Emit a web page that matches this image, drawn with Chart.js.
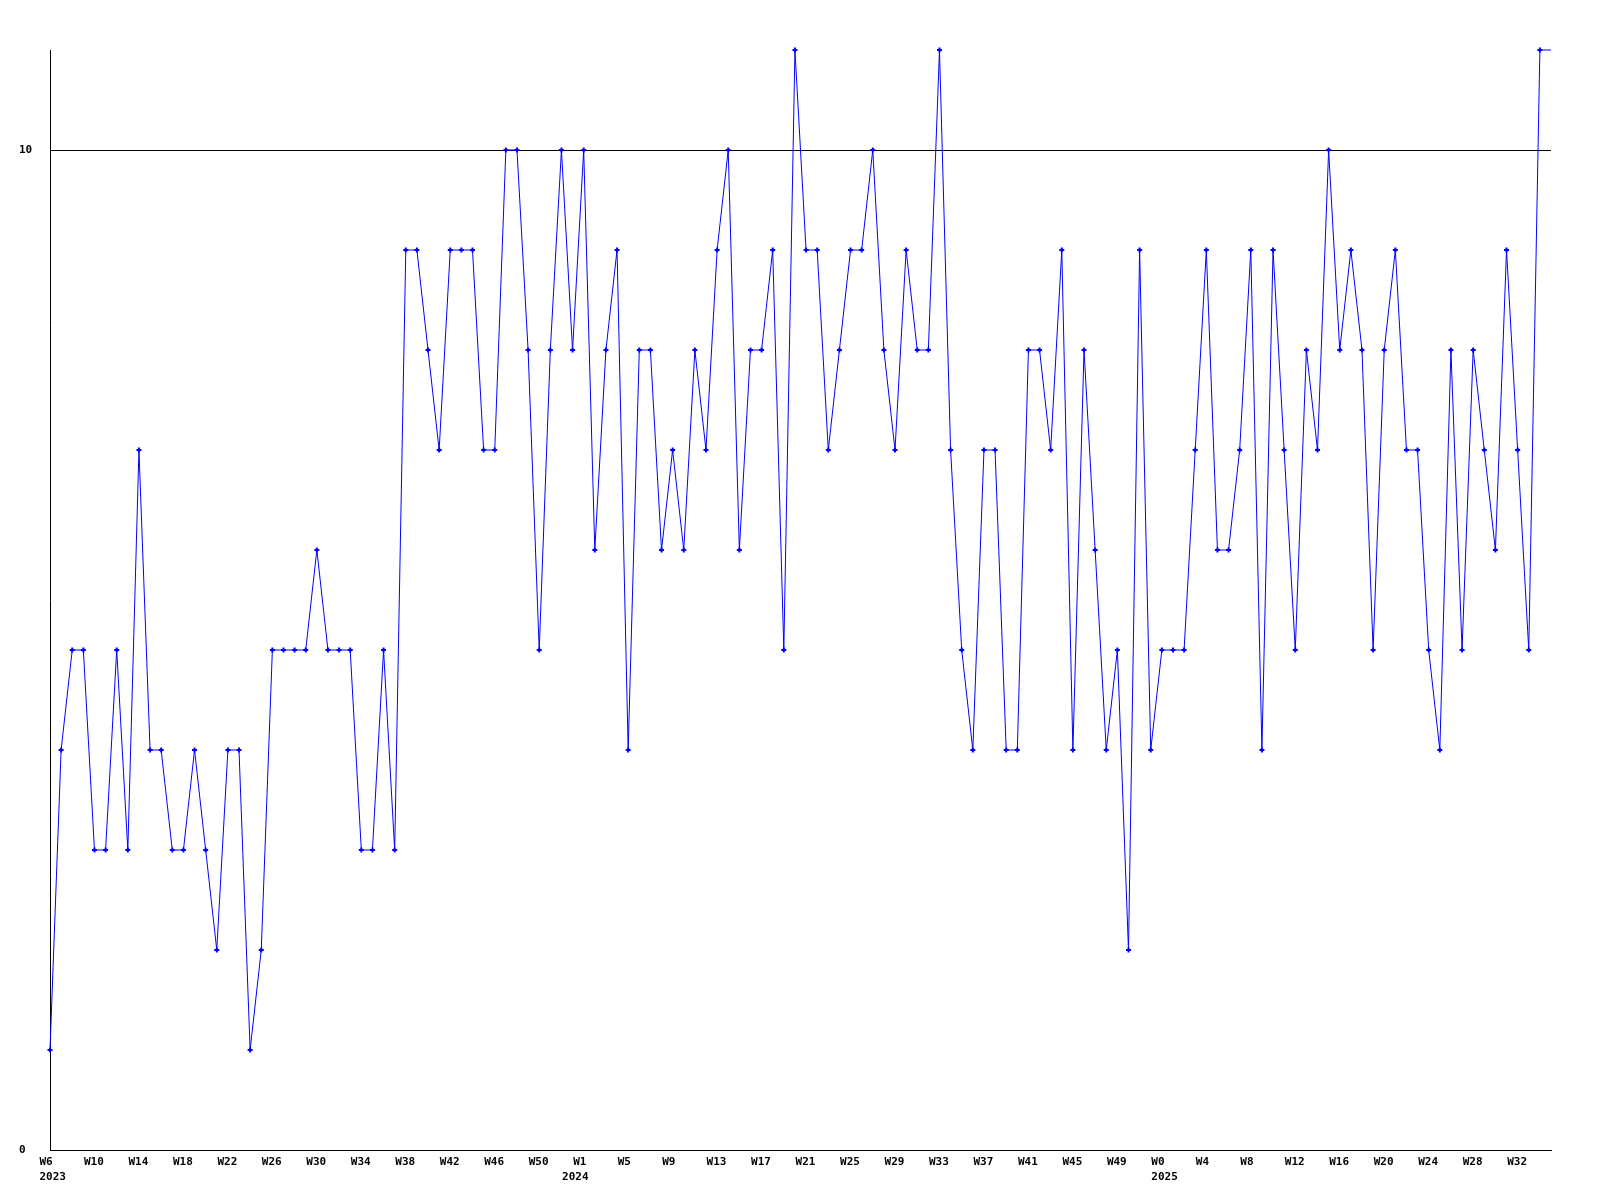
<!DOCTYPE html>
<html><head><meta charset="utf-8">
<script src="https://cdn.jsdelivr.net/npm/chart.js@4"></script>
<style>html,body{margin:0;padding:0;background:#fff}#wrap{width:1600px;height:1200px}</style>
</head><body><div id="wrap"><canvas id="c" width="1600" height="1200"></canvas></div>
<script>
const values = [
  1,4,5,5,3,3,5,3,7,4, 4,3,3,4,3,2,4,4,1,2,
  5,5,5,5,6,5,5,5,3,3, 5,3,9,9,8,7,9,9,9,7,
  7,10,10,8,5,8,10,8,10,6, 8,9,4,8,8,6,7,6,8,7,
  9,10,6,8,8,9,5,11,9,9, 7,8,9,9,10,8,7,9,8,8,
  11,7,5,4,7,7,4,4,8,8, 7,9,4,8,6,4,5,2,9,4,
  5,5,5,7,9,6,6,7,9,4, 9,7,5,8,7,10,8,9,8,5,
  8,9,7,7,5,4,8,5,8,7, 6,9,7,5,11
];
const weekTicks = ['W6','W10','W14','W18','W22','W26','W30','W34','W38','W42','W46','W50',
  'W1','W5','W9','W13','W17','W21','W25','W29','W33','W37','W41','W45','W49',
  'W0','W4','W8','W12','W16','W20','W24','W28','W32'];
const weekTickIndex = weekTicks.map((t, i) => i * 4);
const yearLabels = ['2023', '2024', '2025'];
const yearTickIndex = [0, 47, 100];
const yTicks = [0, 10];
const yMax = 11;

const pts = values.map((v, i) => ({x: i, y: v}));
pts.push({x: values.length, y: values[values.length - 1]});

const tickFont = {family: 'DejaVu Sans Mono', weight: 'bold', size: 11, lineHeight: 1.2};

new Chart(document.getElementById('c'), {
  type: 'line',
  data: {
    datasets: [{
      data: pts,
      borderColor: '#0000ff',
      borderWidth: 1,
      tension: 0,
      fill: false,
      clip: false,
      pointStyle: 'cross',
      pointRadius: ctx => (ctx.dataIndex < values.length ? 2.5 : 0),
      pointBorderWidth: 2,
      pointBorderColor: '#0000ff',
      pointBackgroundColor: '#0000ff'
    }]
  },
  options: {
    responsive: false,
    animation: false,
    devicePixelRatio: 1,
    layout: {padding: {left: 19, top: 50, right: 49, bottom: 0}},
    plugins: {legend: {display: false}, tooltip: {enabled: false}},
    scales: {
      x: {
        type: 'linear', position: 'bottom', min: 0, max: values.length,
        grid: {display: false, drawTicks: false},
        border: {display: true, color: '#000', width: 1},
        afterBuildTicks: s => { s.ticks = weekTickIndex.map(v => ({value: v})); },
        afterFit: s => { s.height = 20; },
        ticks: {
          autoSkip: false, maxRotation: 0, minRotation: 0, align: 'start', labelOffset: -10.5,
          padding: 6, color: '#000', font: tickFont,
          callback: (v, i) => weekTicks[i]
        }
      },
      x2: {
        type: 'linear', position: 'bottom', min: 0, max: values.length,
        grid: {display: false, drawTicks: false},
        border: {display: false},
        afterBuildTicks: s => { s.ticks = yearTickIndex.map(v => ({value: v})); },
        afterFit: s => { s.height = 30; },
        ticks: {
          autoSkip: false, maxRotation: 0, minRotation: 0, align: 'start', labelOffset: -10.5,
          padding: 1, color: '#000', font: tickFont,
          callback: (v, i) => yearLabels[i]
        }
      },
      y: {
        type: 'linear', position: 'left', min: 0, max: yMax,
        grid: {display: true, color: '#000', lineWidth: 1, drawTicks: false},
        border: {display: true, color: '#000', width: 1},
        afterBuildTicks: s => { s.ticks = yTicks.map(v => ({value: v})); },
        afterFit: s => { s.width = 31; },
        ticks: {crossAlign: 'far', color: '#000', font: tickFont, padding: 0}
      }
    }
  }
});
</script>
</body></html>
